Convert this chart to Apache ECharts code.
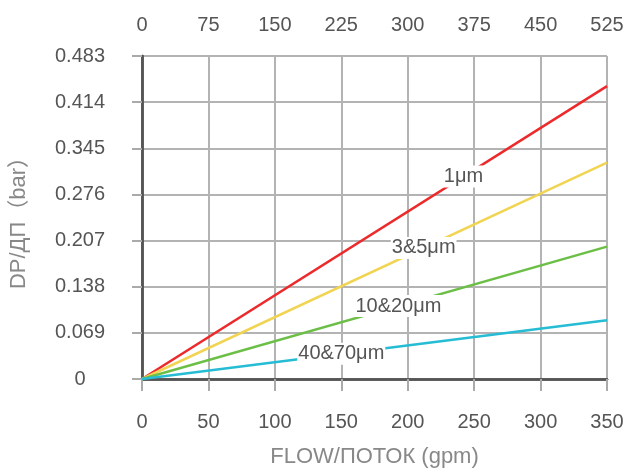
<!DOCTYPE html>
<html><head><meta charset="utf-8">
<script src="https://cdn.jsdelivr.net/npm/echarts@6/dist/echarts.min.js"></script>
<style>html,body{margin:0;padding:0;background:#fff}#c{width:628px;height:473px}</style>
</head><body><div id="c"></div>
<script>
// Data
const seriesNames = ['1μm', '3&5μm', '10&20μm', '40&70μm'];
const flowPoints = [0, 350];
const dp1 = [0, 0.438];
const dp35 = [0, 0.3235];
const dp1020 = [0, 0.198];
const dp4070 = [0, 0.088];
const labelFlow = [242, 212, 193, 150];
const bottomTicks = [0, 50, 100, 150, 200, 250, 300, 350];
const topTicks = [0, 75, 150, 225, 300, 375, 450, 525];
const yTicks = ['0', '0.069', '0.138', '0.207', '0.276', '0.345', '0.414', '0.483'];

const colors = ['#ec2a2b', '#f2d453', '#6cbf46', '#26bcd4'];
const allDp = [dp1, dp35, dp1020, dp4070];
const font = '"Liberation Sans", Arial, sans-serif';
const nameFont = '"Liberation Sans", Arial, "Noto Sans CJK SC", sans-serif';

const series = allDp.map((dp, i) => {
  const endX = flowPoints[flowPoints.length - 1], endY = dp[dp.length - 1];
  const lx = labelFlow[i];
  return {
    type: 'line', name: seriesNames[i], xAxisIndex: 0, yAxisIndex: 0,
    data: flowPoints.map((f, k) => [f, dp[k]]),
    showSymbol: false, symbol: 'none',
    lineStyle: { color: colors[i], width: 2.5 },
    z: 3,
    markPoint: {
      symbol: 'rect', symbolSize: 0, silent: true,
      data: [{ coord: [lx, endY * lx / endX] }],
      label: {
        show: true, position: 'inside', formatter: seriesNames[i],
        color: '#555', fontSize: 20, fontFamily: font,
        backgroundColor: '#fff', padding: [1, 1]
      }
    }
  };
});

const chart = echarts.init(document.getElementById('c'));
chart.setOption({
  animation: false,
  backgroundColor: '#fff',
  grid: { left: 142, right: 21, top: 56, bottom: 93 },
  xAxis: [{
    type: 'value', position: 'bottom', min: bottomTicks[0], max: bottomTicks[bottomTicks.length - 1],
    interval: bottomTicks[1] - bottomTicks[0],
    name: 'FLOW/ПОТОК (gpm)', nameLocation: 'middle', nameGap: 67,
    nameTextStyle: { color: '#888', fontSize: 22, fontFamily: font },
    axisLine: { show: true, lineStyle: { color: '#555', width: 2.5 } },
    axisTick: { show: true, length: 12, lineStyle: { color: '#aaa', width: 2 } },
    axisLabel: { color: '#555', fontSize: 20, fontFamily: font, margin: 33 },
    splitLine: { show: true, lineStyle: { color: '#b3b3b3', width: 2 } }
  }, {
    type: 'value', position: 'top', min: topTicks[0], max: topTicks[topTicks.length - 1],
    interval: topTicks[1] - topTicks[0],
    axisLine: { show: true, lineStyle: { color: '#555', width: 2.5 } },
    axisTick: { show: false },
    axisLabel: { color: '#555', fontSize: 20, fontFamily: font, margin: 21 },
    splitLine: { show: false }
  }],
  yAxis: [{
    type: 'value', position: 'left', min: 0, max: 0.483, interval: 0.069,
    name: 'DP/ДП（bar）', nameLocation: 'middle', nameGap: 112,
    nameTextStyle: { color: '#888', fontSize: 22, fontFamily: nameFont },
    axisLine: { show: true, lineStyle: { color: '#555', width: 2.5 } },
    axisTick: { show: true, length: 10, lineStyle: { color: '#aaa', width: 2 } },
    axisLabel: {
      color: '#555', fontSize: 20, fontFamily: font, margin: 62, align: 'center',
      formatter: (v) => yTicks[Math.round(v / 0.069)]
    },
    splitLine: { show: true, lineStyle: { color: '#b3b3b3', width: 2 } }
  }, {
    type: 'value', position: 'right', min: 0, max: 0.483, interval: 0.069,
    axisLine: { show: true, lineStyle: { color: '#555', width: 2.5 } },
    axisTick: { show: false }, axisLabel: { show: false }, splitLine: { show: false }
  }],
  series: series
});
</script></body></html>
